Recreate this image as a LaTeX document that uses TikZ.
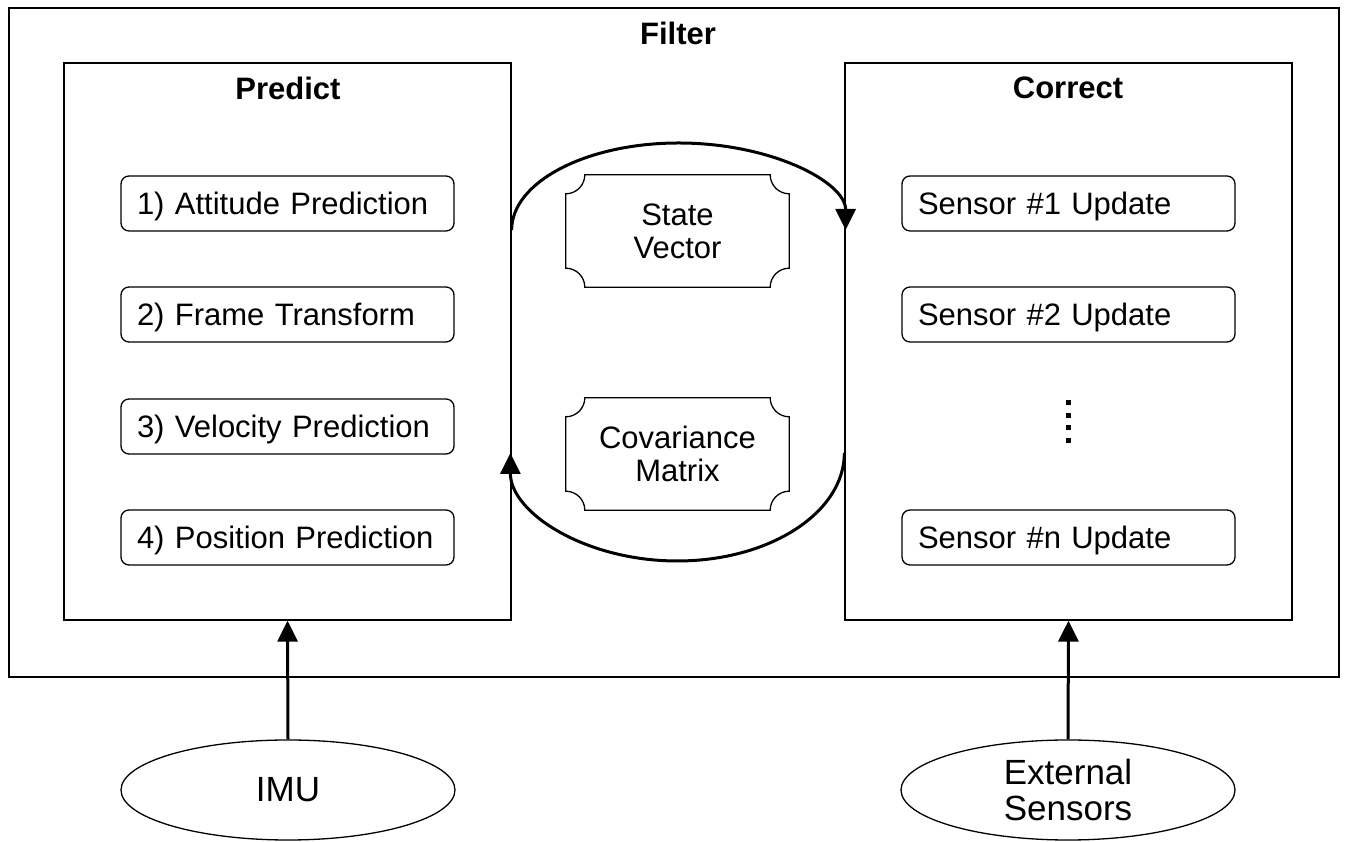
\documentclass[tikz,border=0pt]{standalone}
\usepackage{fontspec}
\setmainfont{Liberation Sans}
\usetikzlibrary{calc,shapes.geometric,arrows.meta}
\newcommand{\scallopframe}[1]{%
  \draw[boxline] ($(#1.north west)+(19,0)$) -- ($(#1.north east)+(-19,0)$)
    arc[start angle=180,end angle=270,radius=19pt]
    -- ($(#1.south east)+(0,19)$) arc[start angle=90,end angle=180,radius=19pt]
    -- ($(#1.south west)+(19,0)$) arc[start angle=0,end angle=90,radius=19pt]
    -- ($(#1.north west)+(0,-19)$) arc[start angle=270,end angle=360,radius=19pt]
    -- cycle;}
\tikzset{
  boxline/.style={draw=black,line width=1.3pt},
  frame/.style={boxline,rectangle,inner sep=0pt},
  title/.style={font=\fontsize{31}{36}\selectfont\bfseries,inner sep=0pt},
  item/.style={boxline,rectangle,rounded corners=8pt,minimum width=333pt,minimum height=55pt,
    text width=301pt,text height=28pt,text depth=5pt,inner xsep=16pt,inner ysep=0pt,align=left,
    font=\fontsize{31}{36}\selectfont},
  store/.style={rectangle,minimum width=223pt,minimum height=112pt,inner sep=0pt,align=center,
    font=\fontsize{31}{36}\selectfont},
  source/.style={boxline,ellipse,minimum width=334pt,minimum height=100pt,inner sep=0pt,align=center,
    font=\fontsize{35}{40}\selectfont},
  arr/.style={line width=3pt,-{Triangle[length=21pt,width=20pt]}},
}
\begin{document}
\begin{tikzpicture}[x=1pt,y=1pt]
\useasboundingbox (0,0) rectangle (1349,842);
% frames
\node[frame,minimum width=1330pt,minimum height=669pt] (filter) at (674,499.5) {};
\node[title] (filtert) at (678,809) {Filter};
\node[frame,minimum width=447pt,minimum height=557pt] (predict) at (287.5,500.5) {};
\node[title] (predictt) at (288,754) {Predict};
\node[frame,minimum width=447pt,minimum height=557pt] (correct) at (1068.5,500.5) {};
\node[title] (correctt) at (1068,754) {Correct};
% predict items
\node[item] (p1) at (287.5,638.5) {1) Attitude Prediction};
\node[item] (p2) at (287.5,527.5) {2) Frame Transform};
\node[item] (p3) at (287.5,415.5) {3) Velocity Prediction};
\node[item] (p4) at (287.5,304.5) {4) Position Prediction};
% correct items
\node[item] (c1) at (1068.5,638.5) {Sensor \#1 Update};
\node[item] (c2) at (1068.5,527.5) {Sensor \#2 Update};
\node[item] (cn) at (1068.5,304.5) {Sensor \#n Update};
\foreach \yy in {439,426.5,414,401.5}
  \fill (1065.5,\yy-2.5) rectangle (1070.5,\yy+2.5);
% stores
\node[store] (sv) at (677.5,611) {State\\[-3pt]Vector};
\scallopframe{sv}
\node[store] (cov) at (677.5,388) {Covariance\\[-3pt]Matrix};
\scallopframe{cov}
% loop arcs
\coordinate (topstart) at (predict.east |- 0,612);
\coordinate (botstart) at (correct.west |- 0,389);
\draw[arr] (topstart) arc[start angle=180,end angle=0,x radius=167pt,y radius=87pt];
\draw[arr] (botstart) arc[start angle=0,end angle=-180,x radius=167pt,y radius=108pt];
% sources
\node[source] (imu) at (288,52) {IMU};
\node[source] (ext) at (1068,52) {External\\[-4pt]Sensors};
\draw[arr] (imu.north) -- (predict.south);
\draw[arr] (ext.north) -- (correct.south);
\end{tikzpicture}
\end{document}
